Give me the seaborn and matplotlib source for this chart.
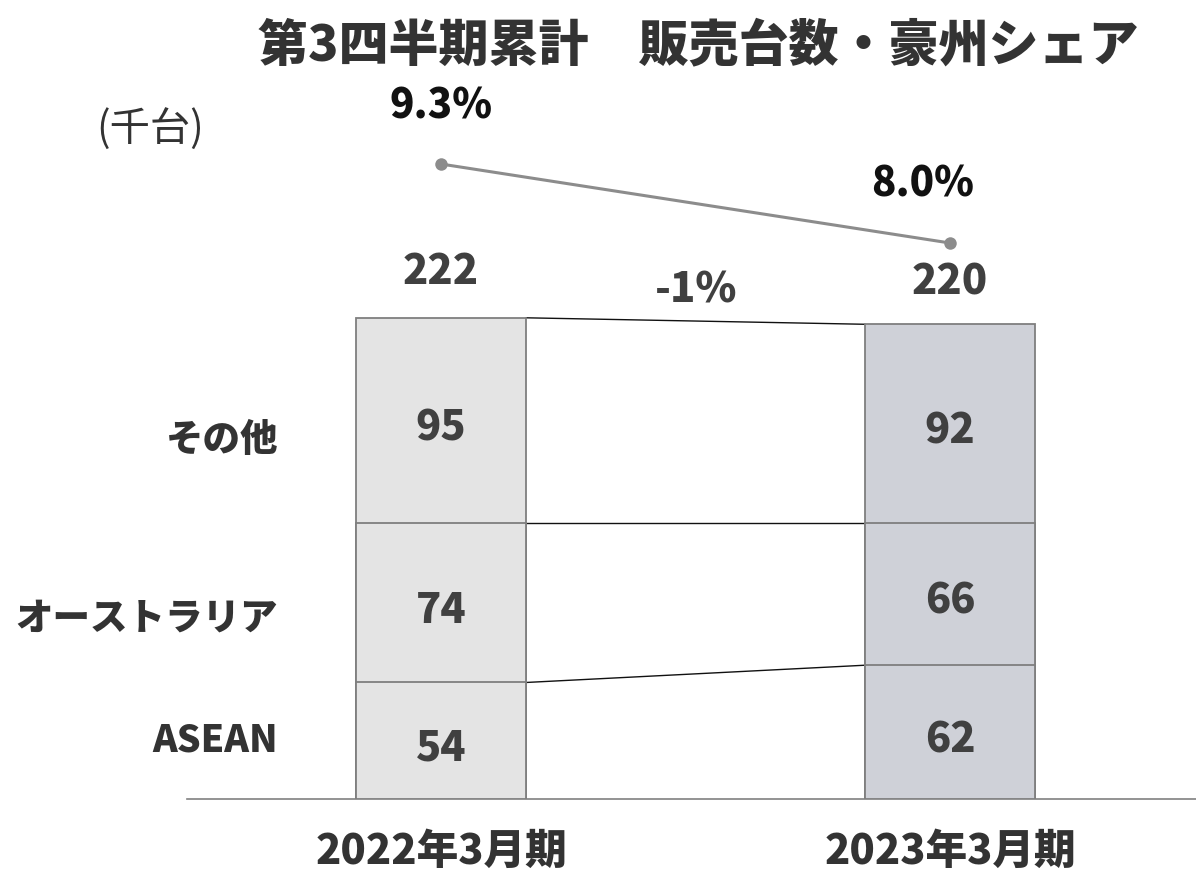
import matplotlib
matplotlib.use("Agg")
import matplotlib.pyplot as plt
import numpy as np
import seaborn as sns

# data
periods = ["2022年3月期", "2023年3月期"]
segments = ["ASEAN", "オーストラリア", "その他"]
asean = [54, 62]
australia = [74, 66]
others = [95, 92]
totals = [222, 220]
share = [9.3, 8.0]
share_labels = ["9.3%", "8.0%"]
change_label = "-1%"

sns.set_theme(style="white")
plt.rcParams["font.family"] = ["Noto Sans CJK JP", "DejaVu Sans"]

fig = plt.figure(figsize=(11.96, 8.78), dpi=100)
ax = fig.add_axes([187 / 1196, 78 / 878, 1009 / 1196, 700 / 878])

bar_w = 0.334
fills = ["#e4e4e4", "#cdd0da"]
edge = "#7f7f7f"
heavy = "black"

stack = np.array([asean, australia, others])
cum = stack.cumsum(axis=0)

# draw cumulative bars from top down so each segment shows its own border
for level in range(len(segments) - 1, -1, -1):
    sns.barplot(x=periods, y=cum[level], hue=periods, palette=fills,
                width=bar_w, edgecolor=edge, linewidth=1.3, legend=False,
                ax=ax, zorder=3)

ax.set_xlim(-0.499, 1.483)
ax.set_ylim(0, 324.4)

# connector lines between segment boundaries
for level in range(len(segments)):
    ax.plot([bar_w / 2, 1 - bar_w / 2], [cum[level][0], cum[level][1]],
            color="#111111", lw=1.0, zorder=2)

# values inside segments
val_color = "#404040"
for i in range(len(periods)):
    for level in range(len(segments)):
        mid = cum[level][i] - stack[level][i] / 2
        ax.annotate(str(stack[level][i]), (i, mid), xytext=(0, -5),
                    textcoords="offset points", ha="center", va="center",
                    fontsize=30, fontweight=heavy, color=val_color, zorder=4)

# totals above bars
total_offsets = [35, 31]
for i, t in enumerate(totals):
    ax.annotate(str(t), (i, t), xytext=(0, total_offsets[i]),
                textcoords="offset points", ha="center", va="center",
                fontsize=30, fontweight=heavy, color=val_color)

ax.annotate(change_label, (0.5, max(totals)), xytext=(0, 22), textcoords="offset points",
            ha="center", va="center", fontsize=30, fontweight=heavy, color=val_color)

# segment labels on the left
label_y = [27.8, 84.3, 166.8]
for name, y in zip(segments, label_y):
    ax.text(-0.32, y, name, ha="right", va="center", fontsize=27,
            fontweight=heavy, color="#333333")

# axis styling
for s in ["left", "right", "top"]:
    ax.spines[s].set_visible(False)
ax.spines["bottom"].set_color("#808080")
ax.spines["bottom"].set_linewidth(1.2)
ax.set_yticks([])
ax.set_xlabel("")
ax.set_ylabel("")
ax.tick_params(axis="x", length=0, pad=22, labelsize=30, labelcolor="#333333")
for lbl in ax.get_xticklabels():
    lbl.set_fontweight(heavy)

# share line on a twin axis
ax2 = ax.twinx()
sns.lineplot(x=[0, 1], y=share, ax=ax2, color="#8c8c8c", lw=2.2,
             marker="o", markersize=9, markeredgewidth=0)
ax2.set_ylim(-1.149, 10.37)
ax2.set_xlim(-0.499, 1.483)
ax2.axis("off")
share_offsets = [(0, 42), (-20, 43)]
for i, lab in enumerate(share_labels):
    ax2.annotate(lab, (i, share[i]), xytext=share_offsets[i],
                 textcoords="offset points", ha="center", va="center",
                 fontsize=29, fontweight=heavy, color="#111111")

fig.text(698 / 1196, 1 - 45 / 878, "第3四半期累計　販売台数・豪州シェア",
         ha="center", va="center", fontsize=36, fontweight=heavy, color="#333333")
fig.text(150 / 1196, 1 - 130 / 878, "(千台)", ha="center", va="center",
         fontsize=29, color="#333333")

fig.savefig("out.png", dpi=100)
